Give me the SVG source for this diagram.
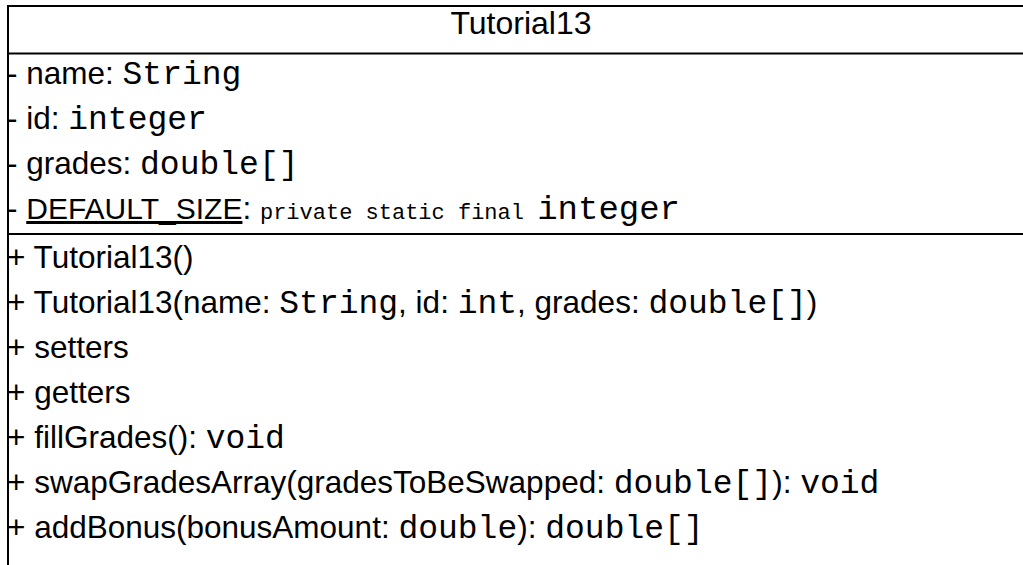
<svg xmlns="http://www.w3.org/2000/svg" width="1023" height="565" viewBox="0 0 1023 565">
<style>
text{font-family:"Liberation Sans",Arial,sans-serif;font-size:31.5px;fill:#000}
.t{font-size:32px}
.m{font-family:"Liberation Mono","Courier New",monospace;font-size:33px}
.ms{font-family:"Liberation Mono","Courier New",monospace;font-size:22px}
.ml{font-family:"Liberation Mono","Courier New",monospace;font-size:34px}
.u{font-size:30px;text-decoration:underline}
.line{stroke:#000;stroke-width:2;fill:none}
</style>
<rect width="1023" height="565" fill="#fff"/>
<g id="Tutorial13">
<path class="line" d="M8 565 V6 H1023 M8 53.5 H1023 M8 234 H1023"/>
<text class="t" x="521" y="34" text-anchor="middle">Tutorial13</text>
<text x="7" y="84">- name: <tspan class="m">String</tspan></text>
<text x="7" y="129">- id: <tspan class="m">integer</tspan></text>
<text x="7" y="174">- grades: <tspan class="m">double[]</tspan></text>
<text x="7" y="219">- <tspan class="u">DEFAULT_SIZE</tspan>: <tspan class="ms">private static final </tspan><tspan class="ml">integer</tspan></text>
<text x="7" y="268">+ Tutorial13()</text>
<text x="7" y="313">+ Tutorial13(name: <tspan class="m">String</tspan>, id: <tspan class="m">int</tspan>, grades: <tspan class="m">double[]</tspan>)</text>
<text x="7" y="358">+ setters</text>
<text x="7" y="403">+ getters</text>
<text x="7" y="448">+ fillGrades(): <tspan class="m">void</tspan></text>
<text x="7" y="493">+ swapGradesArray(gradesToBeSwapped: <tspan class="m">double[]</tspan>): <tspan class="m">void</tspan></text>
<text x="7" y="538">+ addBonus(bonusAmount: <tspan class="m">double</tspan>): <tspan class="m">double[]</tspan></text>
</g>
</svg>
